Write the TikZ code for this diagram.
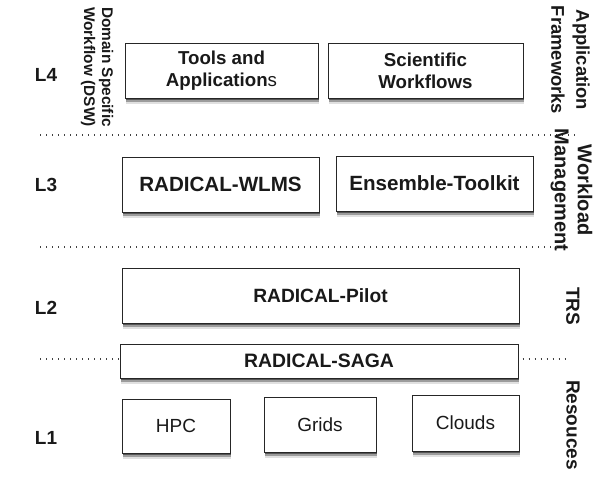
\documentclass[tikz,border=0pt]{standalone}
\usepackage{fontspec}
\setmainfont{Liberation Sans}
\usetikzlibrary{shadows}
\begin{document}
\begin{tikzpicture}[x=1pt,y=-1pt,
  rsz/.style={font=\fontsize{#1}{22}\selectfont},
  bsz/.style={font=\fontsize{#1}{22}\selectfont\bfseries},
  box/.style={draw=black!85, line width=1pt, fill=white, inner sep=0pt, align=center,
    text=black!90,
    drop shadow={shadow xshift=0.5pt, shadow yshift=-2pt, opacity=.45, fill=black},
    drop shadow={shadow xshift=1pt, shadow yshift=-4pt, opacity=.3, fill=black},
    drop shadow={shadow xshift=1pt, shadow yshift=-6pt, opacity=.12, fill=black}},
  lvl/.style={font=\fontsize{19}{19}\selectfont\bfseries, text=black!90},
  side/.style={rotate=-90, align=center, text=black!90, inner sep=0pt},
  dots/.style={line width=1.3pt, dash pattern=on 1.3pt off 4.7pt, draw=black!75}
]
\useasboundingbox (0,0) rectangle (600,488);

% L4
\node[lvl] (l4) at (46,75) {L4};
\node[side, font=\fontsize{15.4}{18}\selectfont\bfseries] (dsw) at (97,67) {Domain Specific\\Workflow (DSW)};
\node[box, bsz=18.7, minimum width=193pt, minimum height=55pt] (tools) at (221.5,70.5) {Tools and\\Application{\mdseries s}};
\node[box, bsz=18.7, minimum width=195pt, minimum height=55pt] (sci) at (425.5,70.5) {Scientific\\Workflows};
\node[side, font=\fontsize{18.4}{25}\selectfont\bfseries] (af) at (570.5,60) {Application\\Frameworks};

\coordinate (d1a) at (40,135);
\coordinate (d1b) at (578,135);
\draw[dots] (d1a) -- (d1b);

% L3
\node[lvl] (l3) at (46,185) {L3};
\node[box, bsz=20.6, minimum width=197pt, minimum height=55pt] (wlms) at (220.5,184.5) {RADICAL-WLMS};
\node[box, bsz=20.6, minimum width=197pt, minimum height=55pt] (entk) at (434.5,183.5) {Ensemble-Toolkit};
\node[side, font=\fontsize{20}{23}\selectfont\bfseries] (wm) at (571.5,190) {Workload\\Management};

\coordinate (d2a) at (40,247);
\coordinate (d2b) at (565,247);
\draw[dots] (d2a) -- (d2b);

% L2
\node[lvl] (l2) at (46,308) {L2};
\node[box, bsz=19.2, minimum width=397pt, minimum height=55pt] (pilot) at (320.5,295.5) {RADICAL-Pilot};
\node[side, font=\fontsize{19}{19}\selectfont\bfseries] (trs) at (573,306) {TRS};

\node[box, bsz=19.4, minimum width=398pt, minimum height=34pt] (saga) at (319,361) {RADICAL-SAGA};
\coordinate (d3a) at (40,359);
\coordinate (d3b) at (567,359);
\draw[dots] (d3a) -- (saga.west |- d3a);
\draw[dots] ([xshift=4pt]saga.east |- d3b) -- (d3b);

% L1
\node[lvl] (l1) at (46,438) {L1};
\node[box, rsz=19, minimum width=108pt, minimum height=54pt] (hpc) at (176,426) {HPC};
\node[box, rsz=19, minimum width=112pt, minimum height=55pt] (grids) at (320,424.5) {Grids};
\node[box, rsz=19, minimum width=107pt, minimum height=56pt] (clouds) at (465.5,423) {Clouds};
\node[side, font=\fontsize{19}{19}\selectfont\bfseries] (res) at (573,425) {Resouces};
\end{tikzpicture}
\end{document}
